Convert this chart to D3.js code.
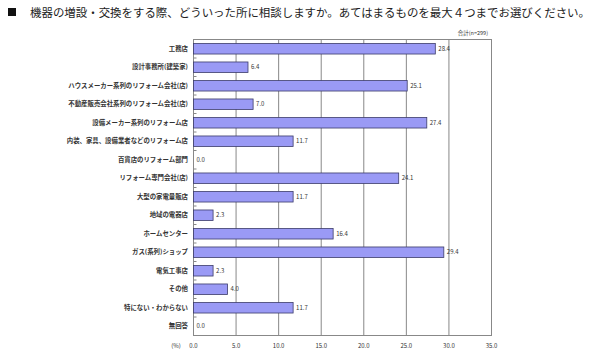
<!DOCTYPE html>
<html><head><meta charset="utf-8">
<script src="https://cdn.jsdelivr.net/npm/d3@7"></script>
<style>body{margin:0;background:#fff}svg{display:block}</style>
</head><body>
<script>
const categories = ["工務店","設計事務所(建築家)","ハウスメーカー系列のリフォーム会社(店)","不動産販売会社系列のリフォーム会社(店)","設備メーカー系列のリフォーム店","内装、家具、設備業者などのリフォーム店","百貨店のリフォーム部門","リフォーム専門会社(店)","大型の家電量販店","地域の電器店","ホームセンター","ガス(系列)ショップ","電気工事店","その他","特にない・わからない","無回答"];
const values = [28.4,6.4,25.1,7.0,27.4,11.7,0.0,24.1,11.7,2.3,16.4,29.4,2.3,4.0,11.7,0.0];
const xTicks = [0,5,10,15,20,25,30,35];
const title = "機器の増設・交換をする際、どういった所に相談しますか。あてはまるものを最大４つまでお選びください。";
const note = "合計(n=299)";

const W=600,H=364;
const svg=d3.select("body").append("svg").attr("width",W).attr("height",H);
const font="'Noto Sans CJK JP','Noto Sans',sans-serif";
const x=d3.scaleLinear().domain([0,35]).range([193.5,491.5]);
const y=d3.scaleBand().domain(categories).range([39.5,335.5]).paddingInner(0.43).paddingOuter(0.215);

// title
svg.append("rect").attr("x",8).attr("y",8).attr("width",8).attr("height",8).attr("fill","#111");
svg.append("text").attr("x",30).attr("y",17).attr("font-family",font).attr("font-size",11.5)
  .attr("fill","#222").attr("textLength",560).attr("lengthAdjust","spacingAndGlyphs").text(title);
svg.append("text").attr("x",488).attr("y",35).attr("text-anchor","end").attr("font-family",font)
  .attr("font-size",5.5).attr("fill","#333").text(note);

// gridlines
svg.append("g").selectAll("line").data(xTicks.slice(1,-1)).join("line")
  .attr("x1",d=>x(d)).attr("x2",d=>x(d)).attr("y1",39.5).attr("y2",335.5)
  .attr("stroke","#888").attr("stroke-width",1);
// border
svg.append("rect").attr("x",x(0)).attr("y",39.5).attr("width",x(35)-x(0)).attr("height",296)
  .attr("fill","none").attr("stroke","#888").attr("stroke-width",1);

// left axis ticks at band boundaries
const step=y.step();
svg.append("g").selectAll("line").data(d3.range(1,categories.length)).join("line")
  .attr("x1",x(0)).attr("x2",x(0)+3).attr("y1",d=>39.5+d*step).attr("y2",d=>39.5+d*step)
  .attr("stroke","#888").attr("stroke-width",1);

// bars
svg.append("g").selectAll("rect").data(values).join("rect")
  .attr("x",x(0)).attr("y",(d,i)=>y(categories[i]))
  .attr("width",d=>x(d)-x(0)).attr("height",y.bandwidth())
  .attr("fill",d=>d>0?"#9a9af5":"none").attr("stroke",d=>d>0?"#3c3c6a":"none").attr("stroke-width",0.8);

// value labels
svg.append("g").selectAll("text").data(values).join("text")
  .attr("x",d=>x(d)+3).attr("y",(d,i)=>y(categories[i])+y.bandwidth()/2+2)
  .attr("font-family",font).attr("font-size",6).attr("fill","#333").text(d=>d.toFixed(1));

// category labels
svg.append("g").selectAll("text").data(categories).join("text")
  .attr("x",188).attr("y",d=>y(d)+y.bandwidth()/2+2.2).attr("text-anchor","end")
  .attr("font-family",font).attr("font-size",6.4).attr("font-weight","bold").attr("fill","#333").text(d=>d);

// x axis labels
svg.append("g").selectAll("text").data(xTicks).join("text")
  .attr("x",d=>x(d)).attr("y",348).attr("text-anchor","middle")
  .attr("font-family",font).attr("font-size",6).attr("fill","#333").text(d=>d.toFixed(1));
svg.append("text").attr("x",176).attr("y",348).attr("text-anchor","middle")
  .attr("font-family",font).attr("font-size",6).attr("fill","#333").text("(%)");
</script>
</body></html>
